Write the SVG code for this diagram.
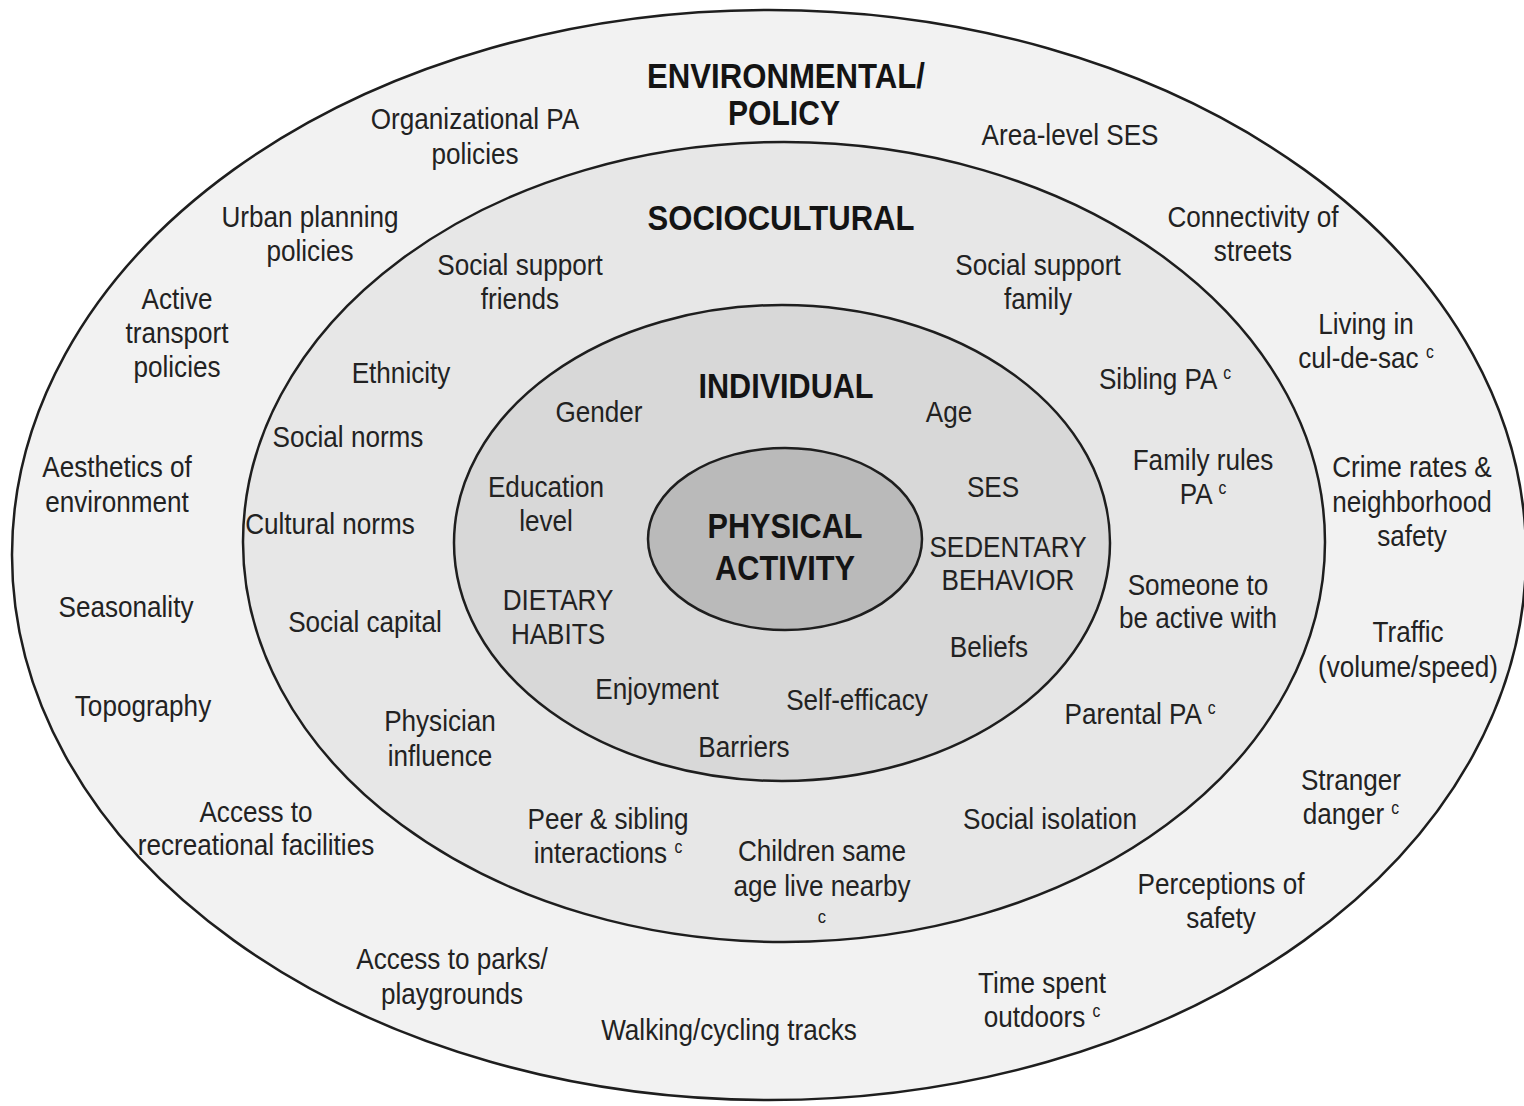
<svg xmlns="http://www.w3.org/2000/svg" width="1524" height="1106" viewBox="0 0 1524 1106">
  <style>
    .ring { stroke: #1e1e1e; stroke-width: 2.5; }
    .t { font-family: "Liberation Sans", Arial, sans-serif; font-size: 30px; fill: #222222; text-anchor: middle; }
    .h { font-family: "Liberation Sans", Arial, sans-serif; font-size: 35px; font-weight: bold; fill: #141414; text-anchor: middle; }
    .sup { font-size: 18px; }
    .cmark { font-size: 19px; }
  </style>
  <rect x="0" y="0" width="1524" height="1106" fill="#ffffff"/>

  <!-- Environmental / policy level -->
  <g id="environmental-policy">
    <ellipse class="ring" cx="769" cy="555" rx="757" ry="545" fill="#f2f2f2"/>
    <text class="h" x="786" y="88" textLength="278" lengthAdjust="spacingAndGlyphs">ENVIRONMENTAL/</text>
    <text class="h" x="784" y="125" textLength="112" lengthAdjust="spacingAndGlyphs">POLICY</text>
    <g id="env-factors">
      <text class="t" transform="translate(475 129) scale(0.87 1)"><tspan x="0">Organizational PA</tspan><tspan x="0" dy="35">policies</tspan></text>
      <text class="t" transform="translate(310 227) scale(0.87 1)"><tspan x="0">Urban planning</tspan><tspan x="0" dy="34">policies</tspan></text>
      <text class="t" transform="translate(177 309) scale(0.87 1)"><tspan x="0">Active</tspan><tspan x="0" dy="34">transport</tspan><tspan x="0" dy="34">policies</tspan></text>
      <text class="t" transform="translate(117 477) scale(0.87 1)"><tspan x="0">Aesthetics of</tspan><tspan x="0" dy="35">environment</tspan></text>
      <text class="t" transform="translate(126 617) scale(0.87 1)">Seasonality</text>
      <text class="t" transform="translate(143 716) scale(0.87 1)">Topography</text>
      <text class="t" transform="translate(256 822) scale(0.87 1)"><tspan x="0">Access to</tspan><tspan x="0" dy="33">recreational facilities</tspan></text>
      <text class="t" transform="translate(452 969) scale(0.87 1)"><tspan x="0">Access to parks/</tspan><tspan x="0" dy="35">playgrounds</tspan></text>
      <text class="t" transform="translate(729 1040) scale(0.87 1)">Walking/cycling tracks</text>
      <text class="t" transform="translate(1042 993) scale(0.87 1)"><tspan x="0">Time spent</tspan><tspan x="0" dy="34">outdoors <tspan class="sup" dy="-10">c</tspan></tspan></text>
      <text class="t" transform="translate(1221 894) scale(0.87 1)"><tspan x="0">Perceptions of</tspan><tspan x="0" dy="34">safety</tspan></text>
      <text class="t" transform="translate(1351 790) scale(0.87 1)"><tspan x="0">Stranger</tspan><tspan x="0" dy="34">danger <tspan class="sup" dy="-10">c</tspan></tspan></text>
      <text class="t" transform="translate(1408 642) scale(0.87 1)"><tspan x="0">Traffic</tspan><tspan x="0" dy="35">(volume/speed)</tspan></text>
      <text class="t" transform="translate(1412 477) scale(0.87 1)"><tspan x="0">Crime rates &amp;</tspan><tspan x="0" dy="35">neighborhood</tspan><tspan x="0" dy="34">safety</tspan></text>
      <text class="t" transform="translate(1366 334) scale(0.87 1)"><tspan x="0">Living in</tspan><tspan x="0" dy="34">cul-de-sac <tspan class="sup" dy="-10">c</tspan></tspan></text>
      <text class="t" transform="translate(1253 227) scale(0.87 1)"><tspan x="0">Connectivity of</tspan><tspan x="0" dy="34">streets</tspan></text>
      <text class="t" transform="translate(1070 145) scale(0.87 1)">Area-level SES</text>
    </g>
  </g>

  <!-- Sociocultural level -->
  <g id="sociocultural">
    <ellipse class="ring" cx="784" cy="542" rx="541" ry="400" fill="#e7e7e7"/>
    <text class="h" x="781" y="230" textLength="267" lengthAdjust="spacingAndGlyphs">SOCIOCULTURAL</text>
    <g id="socio-factors">
      <text class="t" transform="translate(520 275) scale(0.87 1)"><tspan x="0">Social support</tspan><tspan x="0" dy="34">friends</tspan></text>
      <text class="t" transform="translate(1038 275) scale(0.87 1)"><tspan x="0">Social support</tspan><tspan x="0" dy="34">family</tspan></text>
      <text class="t" transform="translate(401 383) scale(0.87 1)">Ethnicity</text>
      <text class="t" transform="translate(348 447) scale(0.87 1)">Social norms</text>
      <text class="t" transform="translate(330 534) scale(0.87 1)">Cultural norms</text>
      <text class="t" transform="translate(365 632) scale(0.87 1)">Social capital</text>
      <text class="t" transform="translate(440 731) scale(0.87 1)"><tspan x="0">Physician</tspan><tspan x="0" dy="35">influence</tspan></text>
      <text class="t" transform="translate(608 829) scale(0.87 1)"><tspan x="0">Peer &amp; sibling</tspan><tspan x="0" dy="34">interactions <tspan class="sup" dy="-10">c</tspan></tspan></text>
      <text class="t" transform="translate(822 861) scale(0.87 1)"><tspan x="0">Children same</tspan><tspan x="0" dy="35">age live nearby</tspan><tspan class="cmark" x="0" dy="27">c</tspan></text>
      <text class="t" transform="translate(1050 829) scale(0.87 1)">Social isolation</text>
      <text class="t" transform="translate(1140 724) scale(0.87 1)">Parental PA <tspan class="sup" dy="-10">c</tspan></text>
      <text class="t" transform="translate(1198 595) scale(0.87 1)"><tspan x="0">Someone to</tspan><tspan x="0" dy="33">be active with</tspan></text>
      <text class="t" transform="translate(1203 470) scale(0.87 1)"><tspan x="0">Family rules</tspan><tspan x="0" dy="34">PA <tspan class="sup" dy="-10">c</tspan></tspan></text>
      <text class="t" transform="translate(1165 389) scale(0.87 1)">Sibling PA <tspan class="sup" dy="-10">c</tspan></text>
    </g>
  </g>

  <!-- Individual level -->
  <g id="individual">
    <ellipse class="ring" cx="782" cy="543" rx="328" ry="238" fill="#d8d8d8"/>
    <text class="h" x="786" y="398" textLength="175" lengthAdjust="spacingAndGlyphs">INDIVIDUAL</text>
    <g id="individual-factors">
      <text class="t" transform="translate(599 422) scale(0.87 1)">Gender</text>
      <text class="t" transform="translate(949 422) scale(0.87 1)">Age</text>
      <text class="t" transform="translate(546 497) scale(0.87 1)"><tspan x="0">Education</tspan><tspan x="0" dy="34">level</tspan></text>
      <text class="t" transform="translate(993 497) scale(0.87 1)">SES</text>
      <text class="t" transform="translate(1008 557) scale(0.87 1)"><tspan x="0">SEDENTARY</tspan><tspan x="0" dy="33">BEHAVIOR</tspan></text>
      <text class="t" transform="translate(558 610) scale(0.87 1)"><tspan x="0">DIETARY</tspan><tspan x="0" dy="34">HABITS</tspan></text>
      <text class="t" transform="translate(989 657) scale(0.87 1)">Beliefs</text>
      <text class="t" transform="translate(657 699) scale(0.87 1)">Enjoyment</text>
      <text class="t" transform="translate(857 710) scale(0.87 1)">Self-efficacy</text>
      <text class="t" transform="translate(744 757) scale(0.87 1)">Barriers</text>
    </g>
  </g>

  <!-- Core outcome -->
  <g id="physical-activity">
    <ellipse class="ring" cx="785" cy="539" rx="137" ry="91" fill="#bababa"/>
    <text class="h" x="785" y="538" textLength="155" lengthAdjust="spacingAndGlyphs">PHYSICAL</text>
    <text class="h" x="785" y="580" textLength="140" lengthAdjust="spacingAndGlyphs">ACTIVITY</text>
  </g>
</svg>
